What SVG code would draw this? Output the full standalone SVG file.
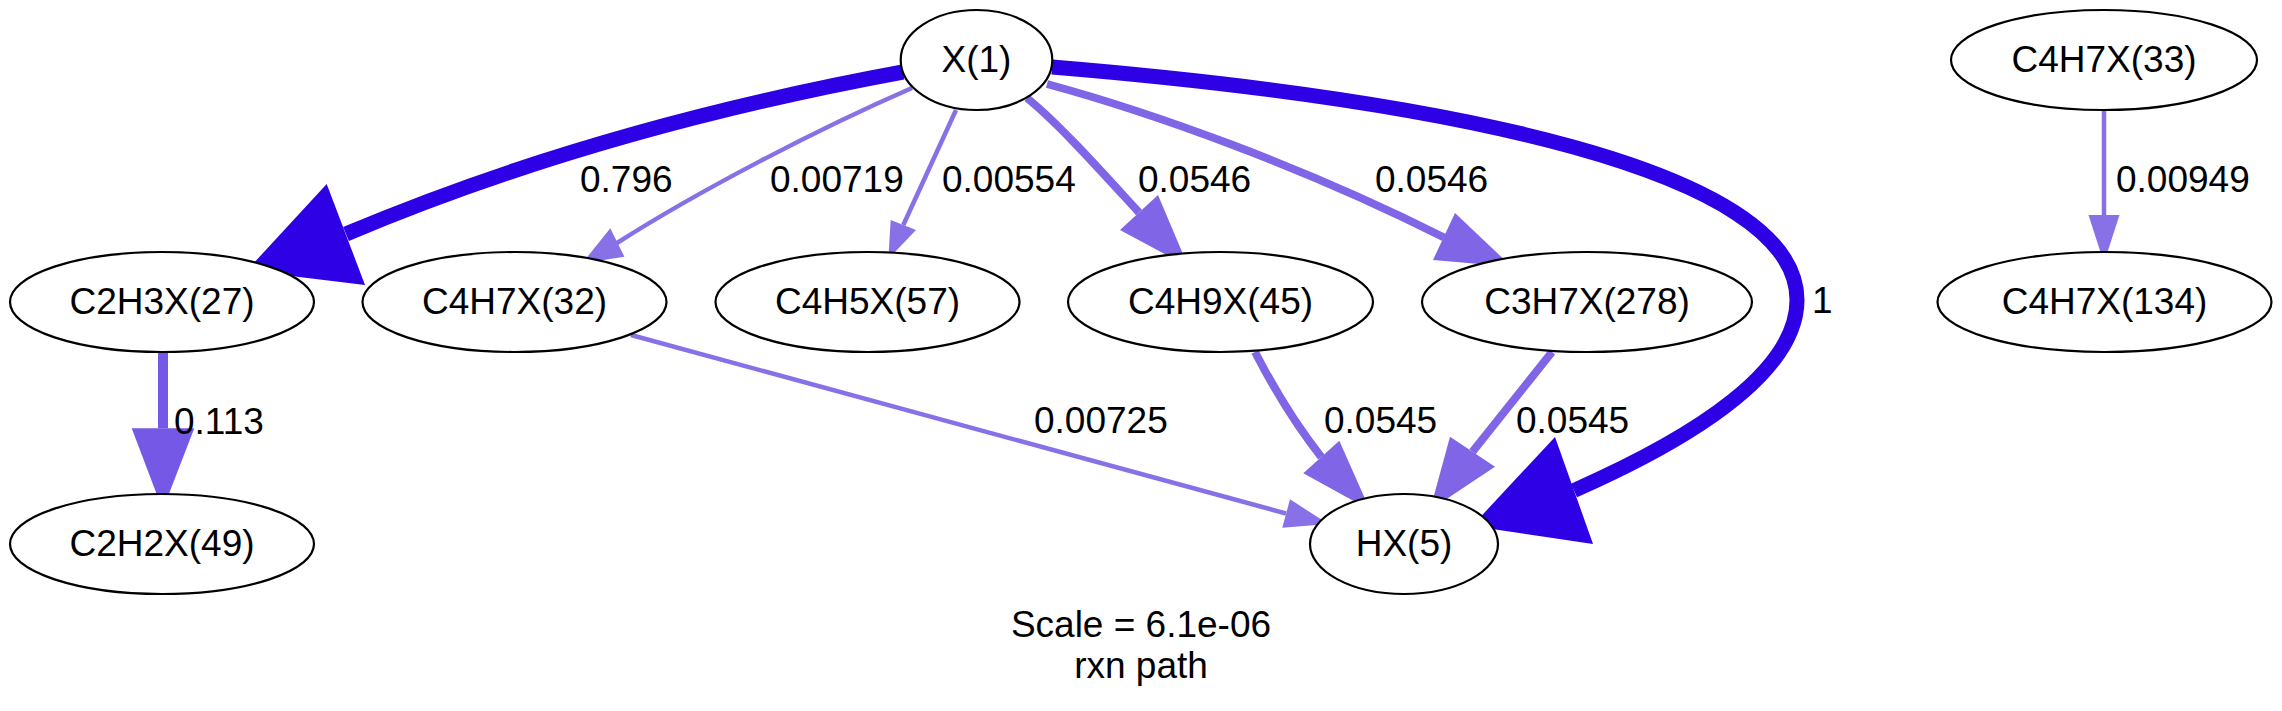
<svg xmlns="http://www.w3.org/2000/svg" width="2282" height="711" viewBox="0 0 2282 711">
<style>
  text { font-family: "Liberation Sans", Arial, Helvetica, sans-serif; font-size: 37px; fill: #000; }
  .node ellipse { fill: #fff; stroke: #000; stroke-width: 2.2; }
  .node text { text-anchor: middle; }
  .e { fill: none; stroke-linecap: butt; }
  .h { stroke: #2e00e6; }
  .hf { fill: #2e00e6; }
  .m { stroke: #7559e6; }
  .mf { fill: #7559e6; }
  .s { stroke: #8066e6; }
  .sf { fill: #8066e6; }
  .t { stroke: #8871e6; }
  .tf { fill: #8871e6; }
</style>
<rect x="0" y="0" width="2282" height="711" fill="#fff"/>
<g id="connectors">
  <!-- X(1) -> C2H3X(27) 0.796 -->
  <path class="e h" stroke-width="15" d="M903,72 C740,102 540,152 346,234"/>
  <polygon class="hf" points="246.7,270.7 326.7,184 365,285"/>
  <text x="580" y="192">0.796</text>
  <!-- X(1) -> C4H7X(32) 0.00719 -->
  <path class="e t" stroke-width="4.5" d="M912,88 C820,128 700,190 617,243"/>
  <polygon class="tf" points="582.2,263.3 610.3,228.3 624.4,256.7"/>
  <text x="770" y="192">0.00719</text>
  <!-- X(1) -> C4H5X(57) 0.00554 -->
  <path class="e t" stroke-width="4.5" d="M956,110 L903.3,225"/>
  <polygon class="tf" points="888.3,259 890.7,220 916,230"/>
  <text x="942" y="192">0.00554</text>
  <!-- X(1) -> C4H9X(45) 0.0546 -->
  <path class="e s" stroke-width="8" d="M1027,98 C1060,125 1100,170 1139,212.5"/>
  <polygon class="sf" points="1188.3,266.7 1120,230 1158,195"/>
  <text x="1138" y="192">0.0546</text>
  <!-- X(1) -> C3H7X(278) 0.0546 -->
  <path class="e s" stroke-width="8" d="M1047,84 C1150,112 1300,165 1444,237.5"/>
  <polygon class="sf" points="1511.7,266.7 1433,260 1455,213"/>
  <text x="1375" y="192">0.0546</text>
  <!-- X(1) -> HX(5) 1 -->
  <path class="e h" stroke-width="15" d="M1052,67 C1450,100 1797,170 1797,300 C1797,370 1700,435 1574,490.5"/>
  <polygon class="hf" points="1472,526 1555,437 1593,544"/>
  <text x="1812" y="313">1</text>
  <!-- C2H3X(27) -> C2H2X(49) 0.113 -->
  <path class="e m" stroke-width="10" d="M163,353 L163,428.3"/>
  <polygon class="mf" points="162.7,510 131.7,428.3 194.3,428.3"/>
  <text x="174" y="434">0.113</text>
  <!-- C4H7X(32) -> HX(5) 0.00725 -->
  <path class="e t" stroke-width="4.5" d="M631,335 L1286,513.5"/>
  <polygon class="tf" points="1328.3,524 1290,499.3 1282.3,527.7"/>
  <text x="1034" y="433">0.00725</text>
  <!-- C4H9X(45) -> HX(5) 0.0545 -->
  <path class="e s" stroke-width="8" d="M1255,352 C1272,385 1292,420 1321.3,457"/>
  <polygon class="sf" points="1370,510 1303.3,473.3 1339.3,440.7"/>
  <text x="1324" y="433">0.0545</text>
  <!-- C3H7X(278) -> HX(5) 0.0545 -->
  <path class="e s" stroke-width="8" d="M1552,352 L1472.5,451.7"/>
  <polygon class="sf" points="1430,510 1450,436.7 1495,466.7"/>
  <text x="1516" y="433">0.0545</text>
  <!-- C4H7X(33) -> C4H7X(134) 0.00949 -->
  <path class="e t" stroke-width="4.5" d="M2104,111 L2104,215"/>
  <polygon class="tf" points="2104,263 2088.5,215 2119.5,215"/>
  <text x="2116" y="192">0.00949</text>
</g>
<g id="node-X1" class="node"><ellipse cx="976.5" cy="60" rx="75.8" ry="50"/><text x="976.5" y="71.5">X(1)</text></g>
<g id="node-C2H3X27" class="node"><ellipse cx="162" cy="302" rx="152" ry="50"/><text x="162" y="313.5">C2H3X(27)</text></g>
<g id="node-C4H7X32" class="node"><ellipse cx="514.5" cy="302" rx="152" ry="50"/><text x="514.5" y="313.5">C4H7X(32)</text></g>
<g id="node-C4H5X57" class="node"><ellipse cx="867.5" cy="302" rx="152" ry="50"/><text x="867.5" y="313.5">C4H5X(57)</text></g>
<g id="node-C4H9X45" class="node"><ellipse cx="1220.5" cy="302" rx="152.5" ry="50"/><text x="1220.5" y="313.5">C4H9X(45)</text></g>
<g id="node-C3H7X278" class="node"><ellipse cx="1587" cy="302" rx="165" ry="50"/><text x="1587" y="313.5">C3H7X(278)</text></g>
<g id="node-C4H7X33" class="node"><ellipse cx="2104" cy="60" rx="153" ry="50"/><text x="2104" y="71.5">C4H7X(33)</text></g>
<g id="node-C4H7X134" class="node"><ellipse cx="2104.5" cy="302" rx="167" ry="50"/><text x="2104.5" y="313.5">C4H7X(134)</text></g>
<g id="node-C2H2X49" class="node"><ellipse cx="162" cy="544" rx="152" ry="50"/><text x="162" y="555.5">C2H2X(49)</text></g>
<g id="node-HX5" class="node"><ellipse cx="1404" cy="544" rx="94" ry="50"/><text x="1404" y="555.5">HX(5)</text></g>
<g id="caption">
  <text x="1141" y="637" text-anchor="middle">Scale = 6.1e-06</text>
  <text x="1141" y="678" text-anchor="middle">rxn path</text>
</g>
</svg>
